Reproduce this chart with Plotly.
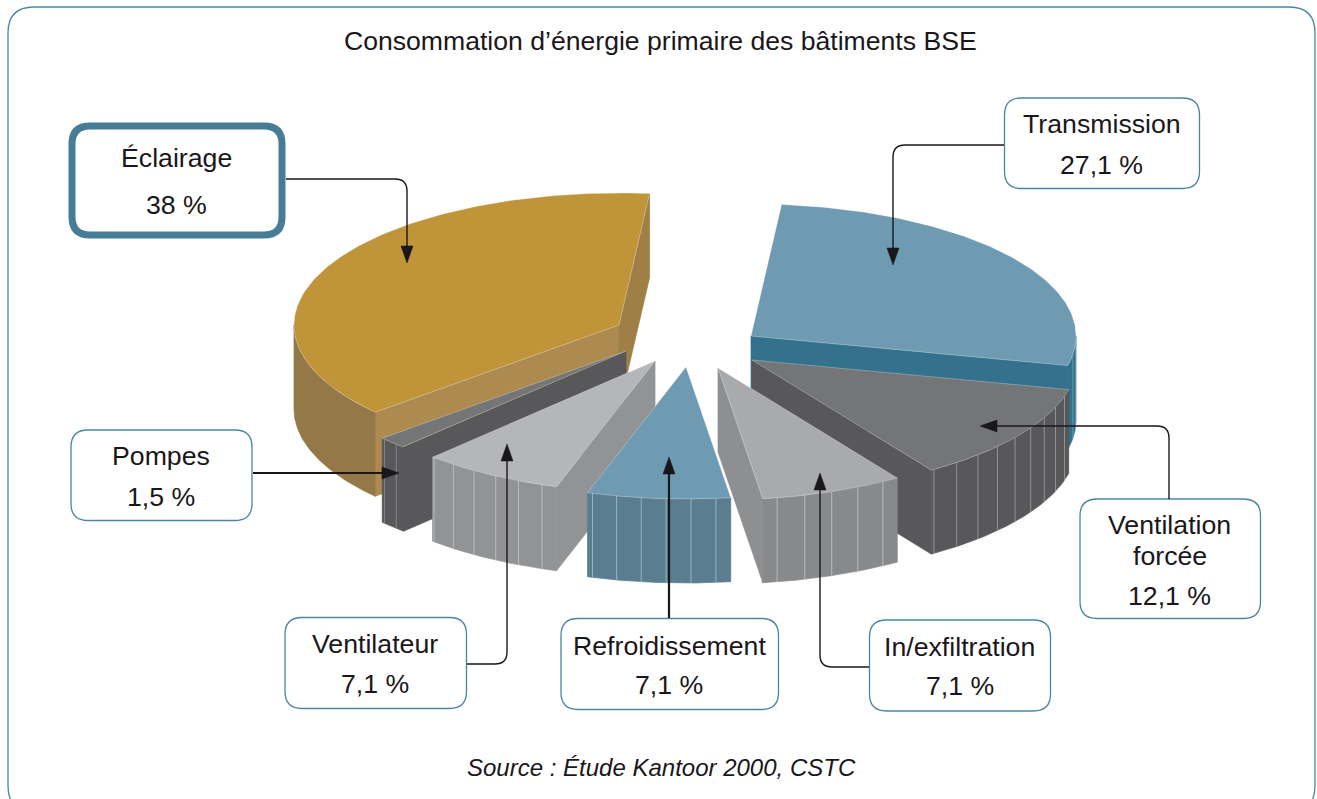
import numpy as np
import plotly.graph_objects as go

# ---- data ----
categories = ["Transmission", "Ventilation forcée", "In/exfiltration", "Refroidissement",
              "Ventilateur", "Pompes", "Éclairage"]
values = [27.1, 12.1, 7.1, 7.1, 7.1, 1.5, 38.0]
value_labels = ["27,1 %", "12,1 %", "7,1 %", "7,1 %", "7,1 %", "1,5 %", "38 %"]
title_text = "Consommation d’énergie primaire des bâtiments BSE"
source_text = "Source : Étude Kantoor 2000, CSTC"

# ---- projection of the exploded pie ----
START_ANGLE = 5.4
CX, CY = 685, 345
RX, RY, DEPTH = 325, 132, 84
PULL = {"Transmission": (66, -9), "Ventilation forcée": (67, 15), "In/exfiltration": (33, 23),
        "Refroidissement": (1, 22), "Ventilateur": (-30, 16), "Pompes": (-59, 6), "Éclairage": (-66, -20)}
STYLE = {  # top, outer, start-radial, end-radial, facet step, facet colour
    "Transmission": ("#6E9BB2", "#34718C", "#34718C", "#34718C", 5, "#6E9BB2"),
    "Ventilation forcée": ("#747576", "#58585A", "#7A7A7C", "#58585A", 5, "#9A9A9C"),
    "In/exfiltration": ("#A9AAAC", "#88898B", "#88898B", "#8E8F91", 5, "#BDBEC0"),
    "Refroidissement": ("#6E9BB2", "#5A7D8F", "#5A7D8F", "#5A7D8F", 4.4, "#9DBBCB"),
    "Ventilateur": ("#B5B6B8", "#929395", "#929395", "#929395", 4.5, "#BDBEC0"),
    "Pompes": ("#747577", "#58585A", "#58585A", "#58585A", 3, "#8A8A8C"),
    "Éclairage": ("#C09539", "#957848", "#AD8A50", "#9E7F45", None, None),
}
DRAW_ORDER = ["Transmission", "Éclairage", "Ventilation forcée", "Pompes",
              "In/exfiltration", "Ventilateur", "Refroidissement"]

cum = np.cumsum([0] + values)
angles = {c: (START_ANGLE + cum[i] * 3.6, START_ANGLE + cum[i + 1] * 3.6) for i, c in enumerate(categories)}

fig = go.Figure()


def poly(xs, ys, fill, line=None, width=0.7):
    fig.add_trace(go.Scatter(x=list(xs), y=list(ys), mode="lines", fill="toself", fillcolor=fill,
                             line=dict(color=line or fill, width=width), hoverinfo="skip", showlegend=False))


def seg(xs, ys, color, width=0.9):
    fig.add_trace(go.Scatter(x=list(xs), y=list(ys), mode="lines", line=dict(color=color, width=width),
                             hoverinfo="skip", showlegend=False))


def radial_visible(a, p, m):
    side_m = (p[0] - a[0]) * (m[1] - a[1]) - (p[1] - a[1]) * (m[0] - a[0])
    side_d = (p[0] - a[0]) * DEPTH
    return side_m * side_d < 0


for name in DRAW_ORDER:
    t0, t1 = angles[name]
    ax_ = CX + PULL[name][0]
    ay_ = CY + PULL[name][1]
    top, outer, rad0, rad1, step, fc = STYLE[name]
    th = np.radians(np.linspace(t0, t1, 120))
    ex = ax_ + RX * np.sin(th)
    ey = ay_ - RY * np.cos(th)
    m = (ex[60], ey[60])
    for p, col in (((ex[0], ey[0]), rad0), ((ex[-1], ey[-1]), rad1)):
        if radial_visible((ax_, ay_), p, m):
            poly([ax_, p[0], p[0], ax_, ax_], [ay_, p[1], p[1] + DEPTH, ay_ + DEPTH, ay_], col)
    lo, hi = max(t0, 90), min(t1, 270)
    if hi > lo:
        tf = np.radians(np.linspace(lo, hi, 80))
        fx = ax_ + RX * np.sin(tf)
        fy = ay_ - RY * np.cos(tf)
        poly(np.r_[fx, fx[::-1], fx[0]], np.r_[fy, fy[::-1] + DEPTH, fy[0]], outer)
        if step:
            for d in np.arange(lo + step * 0.6, hi, step):
                r = np.radians(d)
                x = ax_ + RX * np.sin(r)
                y = ay_ - RY * np.cos(r)
                seg([x, x], [y, y + DEPTH], fc)
    poly(np.r_[ax_, ex, ax_], np.r_[ay_, ey, ay_], top, "rgba(255,255,255,0.35)", 0.8)


def rrect(x0, y0, x1, y1, r):
    return (f"M{x0+r},{y0} L{x1-r},{y0} Q{x1},{y0} {x1},{y0+r} L{x1},{y1-r} Q{x1},{y1} {x1-r},{y1} "
            f"L{x0+r},{y1} Q{x0},{y1} {x0},{y1-r} L{x0},{y0+r} Q{x0},{y0} {x0+r},{y0} Z")


TEAL = "#4A86A1"
INK = "#1A171B"
shapes = [dict(type="path", path=rrect(8, 7, 1315, 812, 26), line=dict(color=TEAL, width=1.3), layer="below")]

# label boxes: name -> x0, y0, x1, y1
BOX = {
    "Éclairage": (72, 126, 282, 235),
    "Transmission": (1004.5, 98, 1199.5, 188.5),
    "Pompes": (71, 430, 252, 520.5),
    "Ventilateur": (285, 617.5, 466.5, 708.5),
    "Refroidissement": (561, 618.5, 778.5, 709.5),
    "In/exfiltration": (869.5, 620, 1050.5, 711),
    "Ventilation forcée": (1080, 499, 1260.5, 618.5),
}
TEXT_Y = {
    "Éclairage": [("Éclairage", 158), (None, 205)],
    "Transmission": [("Transmission", 124), (None, 165)],
    "Pompes": [("Pompes", 456), (None, 497)],
    "Ventilateur": [("Ventilateur", 644), (None, 684)],
    "Refroidissement": [("Refroidissement", 646), (None, 685)],
    "In/exfiltration": [("In/exfiltration", 647), (None, 686)],
    "Ventilation forcée": [("Ventilation", 525), ("forcée", 556), (None, 596)],
}
ARROW = {
    "Éclairage": ("M286,179 L395,179 Q407,179 407,191 L407,248", (407, 263), "v", 1.4),
    "Transmission": ("M1004,145 L905,145 Q893,145 893,157 L893,250", (893, 265), "v", 1.4),
    "Pompes": ("M253,473 L385,473", (399, 473), ">", 2.2),
    "Ventilateur": ("M467,664 L495,664 Q507,664 507,652 L507,460", (507, 444), "^", 1.4),
    "Refroidissement": ("M669,618 L669,472", (669, 457), "^", 2.2),
    "In/exfiltration": ("M869,667 L832,667 Q820,667 820,655 L820,489", (820, 473), "^", 1.4),
    "Ventilation forcée": ("M1169,499 L1169,438 Q1169,426 1157,426 L995,426", (980, 426), "<", 1.4),
}
HEAD = {"v": lambda x, y: f"M{x},{y} L{x-6},{y-17} L{x+6},{y-17} Z",
        "^": lambda x, y: f"M{x},{y} L{x-6},{y+17} L{x+6},{y+17} Z",
        ">": lambda x, y: f"M{x},{y} L{x-17},{y-6} L{x-17},{y+6} Z",
        "<": lambda x, y: f"M{x},{y} L{x+17},{y-6} L{x+17},{y+6} Z"}

annotations = []


def label(x, y, text, size=26.7, italic=False):
    annotations.append(dict(x=x, y=y, xref="x", yref="y", text=f"<i>{text}</i>" if italic else text,
                            showarrow=False, xanchor="center", yanchor="middle",
                            font=dict(family="Liberation Sans", size=size, color=INK)))


for name, lab in zip(categories, value_labels):
    x0, y0, x1, y1 = BOX[name]
    heavy = name == "Éclairage"
    shapes.append(dict(type="path", path=rrect(x0, y0, x1, y1, 18 if heavy else 17),
                       fillcolor="white", line=dict(color="#467C96" if heavy else TEAL, width=7 if heavy else 1.3)))
    p, tip, kind, w = ARROW[name]
    shapes.append(dict(type="path", path=p, line=dict(color=INK, width=w)))
    shapes.append(dict(type="path", path=HEAD[kind](*tip), fillcolor=INK, line=dict(color=INK, width=0.5)))
    for txt, y in TEXT_Y[name]:
        label((x0 + x1) / 2 - 0.5, y, txt if txt else lab)

label(660.5, 41, title_text, size=26.6)
label(661, 767, source_text, size=24, italic=True)

fig.update_layout(width=1317, height=799, margin=dict(l=0, r=0, t=0, b=0), autosize=False,
                  paper_bgcolor="white", plot_bgcolor="white", showlegend=False,
                  xaxis=dict(range=[0, 1317], visible=False, fixedrange=True),
                  yaxis=dict(range=[799, 0], visible=False, fixedrange=True),
                  shapes=shapes, annotations=annotations)
fig.write_html("out.html", config={"displayModeBar": False},
               post_script="document.body.style.margin='0';document.body.style.overflow='hidden';")
